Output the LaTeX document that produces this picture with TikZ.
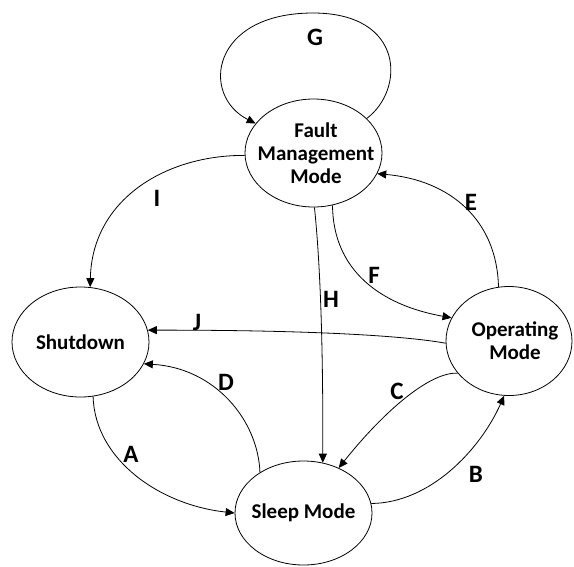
\documentclass[tikz,border=0pt]{standalone}
\usepackage{fontspec}
\setmainfont{Carlito}
\usetikzlibrary{shapes.geometric,arrows.meta}
\newcommand{\zw}[1]{\makebox[0pt]{#1}}
\begin{document}
\begin{tikzpicture}[x=1pt,y=-1pt,
  state/.style={ellipse,draw,line width=0.8pt,inner sep=0pt,align=center,font=\fontsize{21}{23}\selectfont\bfseries},
  conn/.style={line width=0.8pt,-{Triangle[length=9pt,width=8pt]}},
  lbl/.style={font=\fontsize{25}{28}\selectfont\bfseries,inner sep=0pt}]
\useasboundingbox (0,0) rectangle (574,566);
\node[state,minimum width=137pt,minimum height=108pt] (fault) at (313.5,153) {\zw{\hspace*{5pt}Fault}\\\zw{\hspace*{5pt}Management}\\\zw{\hspace*{5pt}Mode}};
\node[state,minimum width=137pt,minimum height=110pt] (shut) at (80.5,342) {\zw{Shutdown}};
\node[state,minimum width=126pt,minimum height=109pt] (oper) at (509,341) {\zw{\hspace*{12pt}Operating}\\\zw{\hspace*{12pt}Mode}};
\node[state,minimum width=137pt,minimum height=104pt] (sleep) at (303.5,513) {\zw{Sleep Mode}};

\draw[conn] (fault.33) .. controls (405,90) and (405,13) .. (313,13) .. controls (211,13) and (200,95) .. (fault.153);
\draw[conn] (fault.182) .. controls (165,155) and (92,200) .. (shut.80);
\draw[conn] (oper.182) .. controls (400,335) and (300,330) .. (shut.10);
\draw[conn] (sleep.137) .. controls (258,420) and (215,368) .. (shut.341);
\draw[conn] (shut.283) .. controls (95,460) and (160,505) .. (sleep.180);
\draw[conn] (fault.271) .. controls (322,280) and (323,380) .. (sleep.69);
\draw[conn] (fault.290) .. controls (333,270) and (380,305) .. (oper.158);
\draw[conn] (oper.101) .. controls (497,220) and (450,180) .. (fault.342);
\draw[conn] (oper.212) .. controls (430,372) and (385,410) .. (sleep.52);
\draw[conn] (sleep.8) .. controls (430,503) and (480,450) .. (oper.265);

\node[lbl] (lG) at (315,37) {G};
\node[lbl] (lI) at (157,198) {I};
\node[lbl] (lJ) at (197,322) {J};
\node[lbl] (lD) at (226,382) {D};
\node[lbl] (lA) at (131,454) {A};
\node[lbl] (lH) at (331,299) {H};
\node[lbl] (lF) at (374,275) {F};
\node[lbl] (lE) at (471,202) {E};
\node[lbl] (lC) at (397,391) {C};
\node[lbl] (lB) at (476,474) {B};
\end{tikzpicture}
\end{document}
